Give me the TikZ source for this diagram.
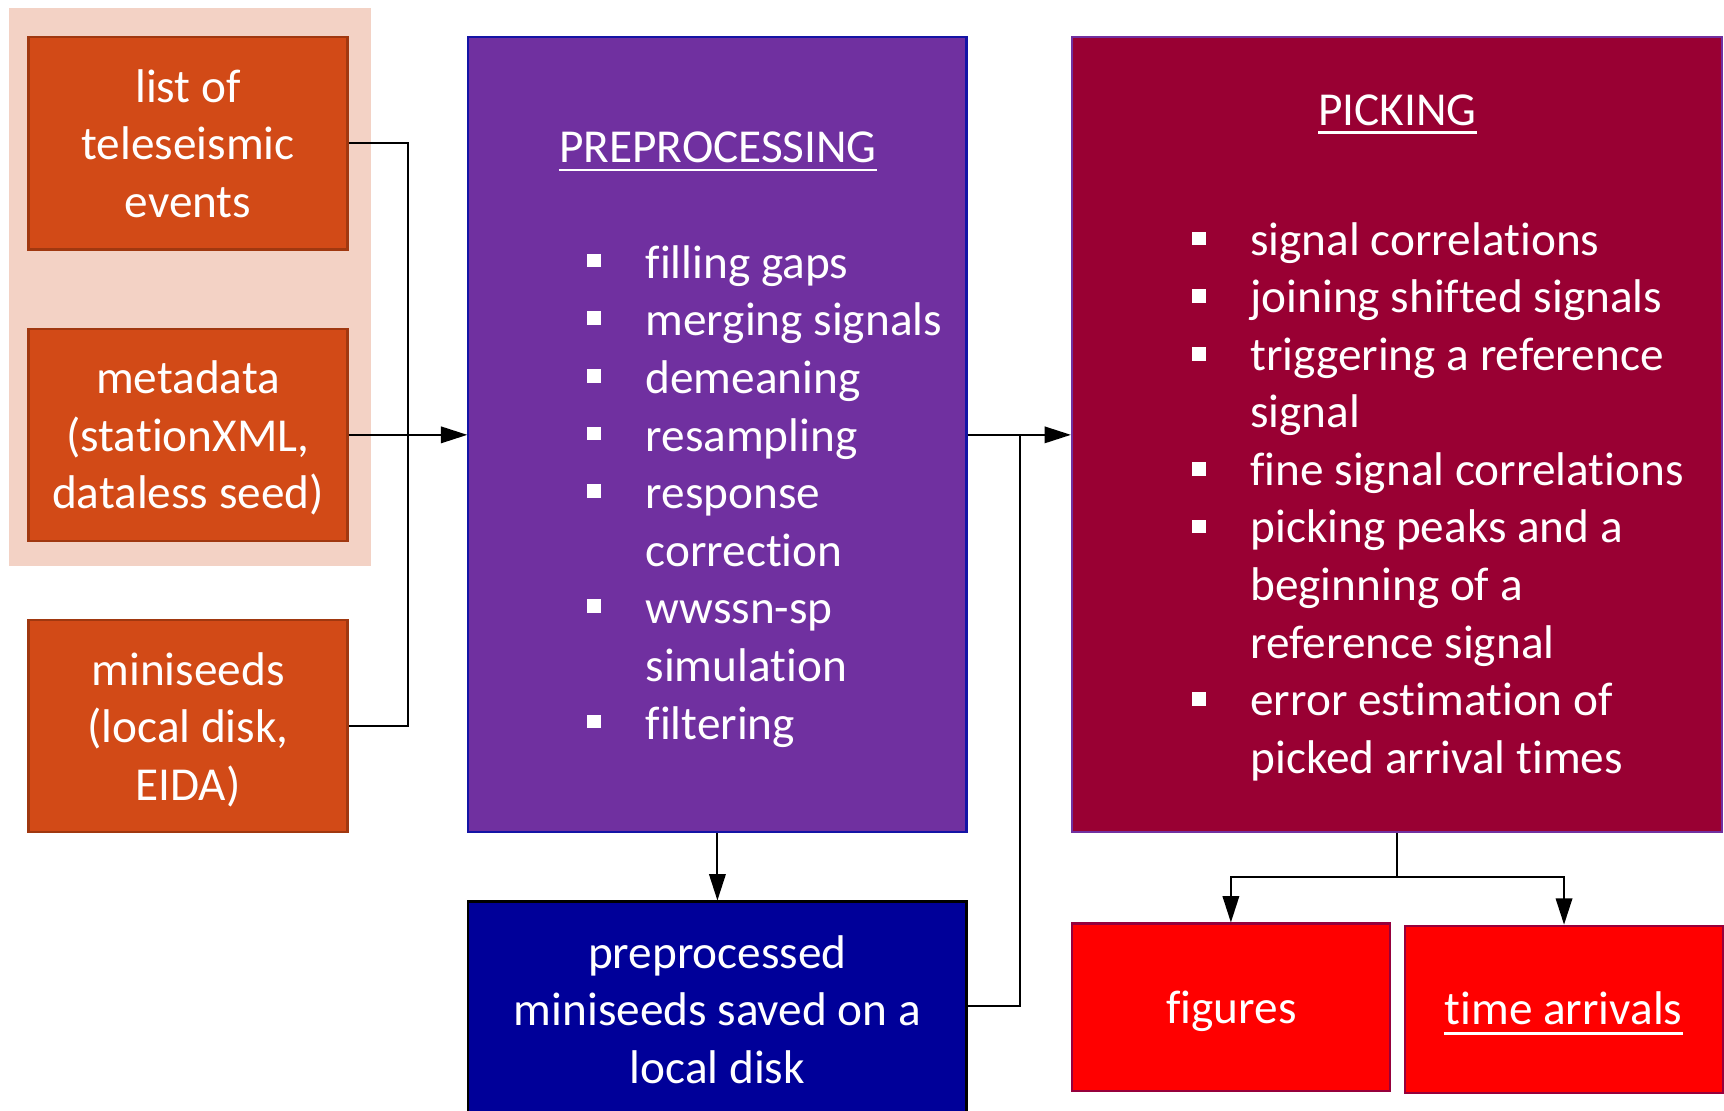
\documentclass[tikz,border=0pt]{standalone}
\usepackage{fontspec}
\setmainfont{Carlito}[Ligatures={NoCommon,NoRare,NoContextual},RawFeature={-liga;-clig;-dlig;-calt;-hlig}]
\usetikzlibrary{arrows.meta}
\definecolor{pinkbg}{RGB}{243,210,197}
\definecolor{orng}{RGB}{210,74,23}
\definecolor{orngd}{RGB}{160,56,16}
\definecolor{purp}{RGB}{112,48,160}
\definecolor{purpd}{RGB}{20,20,165}
\definecolor{crim}{RGB}{153,0,51}
\definecolor{navy}{RGB}{0,0,153}
\definecolor{redbox}{RGB}{255,0,0}
\definecolor{redd}{RGB}{150,0,60}
\begin{document}
\begin{tikzpicture}[x=1pt,y=-1pt,
  box/.style={draw, line width=2pt, inner sep=0pt, align=center, text=white,
    text depth=0pt, font=\fontsize{43}{52.4}\selectfont},
  txt/.style={inner sep=0pt, text=white, font=\fontsize{43}{52.4}\selectfont, anchor=base west},
  conn/.style={line width=1.8pt, draw=black},
  arr/.style={conn, -{Triangle[length=24pt,width=15pt]}},
  bul/.style={fill=white, draw=none, minimum size=12.5pt, inner sep=0pt},
  uline/.style={draw=white, line width=2.4pt}
]
\useasboundingbox (0,0) rectangle (1568,1010);
\clip (0,0) rectangle (1568,1010);
\fill[white] (0,0) rectangle (1568,1010);

% group background
\node[fill=pinkbg, draw=none, minimum width=329pt, minimum height=508pt, inner sep=0pt, anchor=north west] (grp) at (8,7) {};

% input boxes
\node[box, fill=orng, draw=orngd, minimum width=290pt, minimum height=193pt] (list) at (171,130.5) {list of\\teleseismic\\events};
\node[box, fill=orng, draw=orngd, minimum width=290pt, minimum height=193pt] (meta) at (171,395.5) {metadata\\(stationXML,\\dataless seed)};
\node[box, fill=orng, draw=orngd, minimum width=290pt, minimum height=193pt] (mini) at (171,660.5) {miniseeds\\(local disk,\\EIDA)};

% preprocessing
\node[box, fill=purp, draw=purpd, minimum width=453pt, minimum height=723pt] (prep) at (652.5,395.5) {};
\node[txt, anchor=base] (ptitle) at (653,148) {PREPROCESSING};
\draw[uline] ([yshift=-6.6pt]ptitle.base west) -- ([yshift=-6.6pt]ptitle.base east);
\foreach \t/\b [count=\i from 0] in {filling gaps/1, merging signals/1, demeaning/1, resampling/1, response/1, correction/0, wwssn-sp/1, simulation/0, filtering/1}{
  \node[txt] (p\i) at (587,{253+52.4*\i}) {\t};
  \ifnum\b=1 \node[bul] (pb\i) at (540.5,{253+52.4*\i-16}) {};\fi
}

% picking
\node[box, fill=crim, draw=purp, minimum width=591pt, minimum height=723pt] (pick) at (1270.5,395.5) {};
\node[txt, anchor=base] (ktitle) at (1271,114) {PICKING};
\draw[uline] ([yshift=-6.6pt]ktitle.base west) -- ([yshift=-6.6pt]ktitle.base east);
\foreach \t/\b [count=\i from 0] in {signal correlations/1, joining shifted signals/1, triggering a reference/1, signal/0, fine signal correlations/1, picking peaks and a/1, beginning of a/0, reference signal/0, error estimation of/1, picked arrival times/0}{
  \node[txt] (k\i) at (1137,{232+52.35*\i}) {\t};
  \ifnum\b=1 \node[bul] (kb\i) at (1090.3,{232+52.35*\i-15}) {};\fi
}

% preprocessed output (runs off the bottom edge)
\node[box, fill=navy, draw=black, minimum width=453pt, minimum height=240pt, text depth=44pt] (blue) at (652.5,940) {preprocessed\\miniseeds saved on a\\local disk};

% outputs
\node[box, fill=redbox, draw=redd, minimum width=289pt, minimum height=152pt] (fig) at (1119.5,916) {};
\node[txt, anchor=base] (ftxt) at (1120,931) {figures};
\node[box, fill=redbox, draw=redd, minimum width=289pt, minimum height=152pt] (time) at (1422.5,918) {};
\node[txt, anchor=base] (ttxt) at (1422,932) {time arrivals};
\draw[uline] ([yshift=-8pt]ttxt.base west) -- ([yshift=-8pt]ttxt.base east);

% connectors
\coordinate (jL) at (371,395.5);
\draw[conn] (list.east) -| (jL) |- (mini.east);
\draw[arr] (meta.east) -- (prep.west);
\draw[arr] (prep.east) -- (pick.west);
\coordinate (jR) at (928,395.5);
\coordinate (jRb) at (928,915);
\draw[conn] (blue.east |- jRb) -- (jRb) -- (jR);
\draw[arr] (prep.south) -- (blue.north);
\coordinate (jB) at (1270.5,798);
\draw[conn] (pick.south) -- (jB);
\draw[arr] (jB) -| (fig.north);
\draw[arr] (jB) -| (time.north);
\end{tikzpicture}
\end{document}
